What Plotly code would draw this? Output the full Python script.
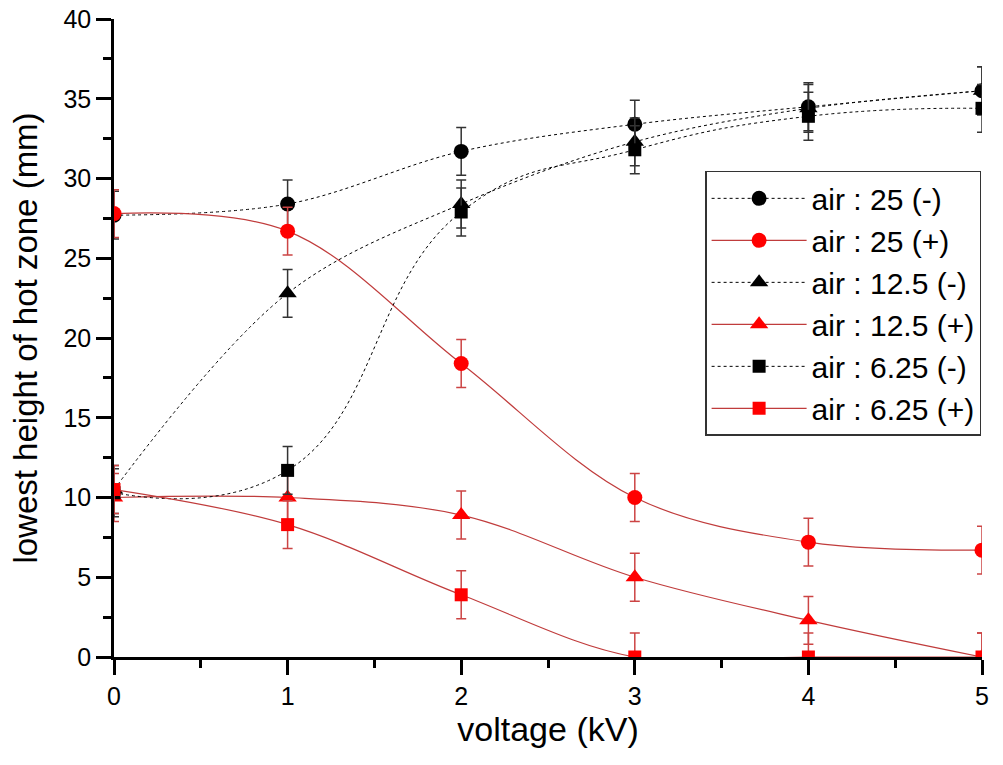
import plotly.graph_objects as go

voltage = [0, 1, 2, 3, 4, 5]

air25_neg = [27.7, 28.4, 31.7, 33.4, 34.5, 35.5]
air25_pos = [27.8, 26.7, 18.4, 10.0, 7.2, 6.7]
air125_neg = [10.5, 22.8, 28.4, 32.3, 34.4, 35.5]
air125_pos = [10.0, 10.0, 8.9, 5.0, 2.3, 0.0]
air625_neg = [10.3, 11.7, 27.9, 31.8, 33.9, 34.4]
air625_pos = [10.5, 8.3, 3.9, 0.0, 0.0, 0.0]

err_25_neg = [1.5, 1.5, 1.5, 1.5, 1.5, 1.5]
err_25_pos = [1.5, 1.5, 1.5, 1.5, 1.5, 1.5]
err_125_neg = [1.5, 1.5, 1.5, 1.5, 1.5, 1.5]
err_125_pos = [1.5, 1.5, 1.5, 1.5, 1.5, 1.5]
err_625_neg = [1.5, 1.5, 1.5, 1.5, 1.5, 1.5]
err_625_pos = [1.5, 1.5, 1.5, 1.5, 1.5, 1.5]

names = ["air : 25 (-)", "air : 25 (+)", "air : 12.5 (-)",
         "air : 12.5 (+)", "air : 6.25 (-)", "air : 6.25 (+)"]

FONT = "Liberation Sans, Arial, sans-serif"
BLACK = "#000000"
BLACK_ERR = "#333333"
RED_LINE = "#c03c3c"
RED_MARK = "#ff0000"
RED_ERR = "#cc4444"

series = [
    (air25_neg, err_25_neg, "circle", 15, "neg", 1.0),
    (air25_pos, err_25_pos, "circle", 15, "pos", 1.0),
    (air125_neg, err_125_neg, "triangle-up", 16, "neg", 1.0),
    (air125_pos, err_125_pos, "triangle-up", 16, "pos", 1.0),
    (air625_neg, err_625_neg, "square", 13, "neg", 1.3),
    (air625_pos, err_625_pos, "square", 13, "pos", 1.0),
]

fig = go.Figure()
for (vals, err, sym, size, pol, sm), name in zip(series, names):
    if pol == "neg":
        line = dict(color=BLACK, width=1, dash="3px,3px", shape="spline", smoothing=sm)
        mcol = BLACK
        ecol = BLACK_ERR
    else:
        line = dict(color=RED_LINE, width=1.2, shape="spline", smoothing=sm)
        mcol = RED_MARK
        ecol = RED_ERR
    fig.add_trace(go.Scatter(
        x=voltage, y=vals, name=name, mode="lines+markers",
        line=line,
        marker=dict(symbol=sym, size=size, color=mcol, line=dict(width=0)),
        error_y=dict(type="data", array=err, visible=True, color=ecol,
                     thickness=1.5, width=5),
        cliponaxis=True,
    ))

axis_common = dict(
    showline=True, linecolor="black", linewidth=2.5,
    ticks="outside", ticklen=15, tickwidth=2.5, tickcolor="black",
    showgrid=False, zeroline=False, mirror=False,
    tickfont=dict(family=FONT, size=25, color="black"),
)

fig.update_xaxes(
    range=[0, 5], dtick=1, tick0=0,
    minor=dict(ticks="outside", ticklen=8, tickwidth=2.5, tickcolor="black", dtick=0.5, showgrid=False),
    title=dict(text="voltage (kV)", font=dict(family=FONT, size=34, color="black"), standoff=9),
    **axis_common,
)
fig.update_yaxes(
    range=[0, 40], dtick=5, tick0=0,
    minor=dict(ticks="outside", ticklen=8, tickwidth=2.5, tickcolor="black", dtick=2.5, showgrid=False),
    title=dict(text="lowest height of hot zone (mm)", font=dict(family=FONT, size=33, color="black"), standoff=16),
    **axis_common,
)

fig.update_layout(
    width=1003, height=765,
    margin=dict(l=114, r=21, t=19, b=108, autoexpand=False),
    plot_bgcolor="white", paper_bgcolor="white",
    font=dict(family=FONT, color="black"),
    legend=dict(
        x=0.681, y=0.762, xanchor="left", yanchor="top",
        bgcolor="white", bordercolor="#333333", borderwidth=1.5,
        font=dict(family=FONT, size=30, color="black"),
        itemwidth=95, tracegroupgap=0,
    ),
    showlegend=True,
)

fig.write_html("out.html")
